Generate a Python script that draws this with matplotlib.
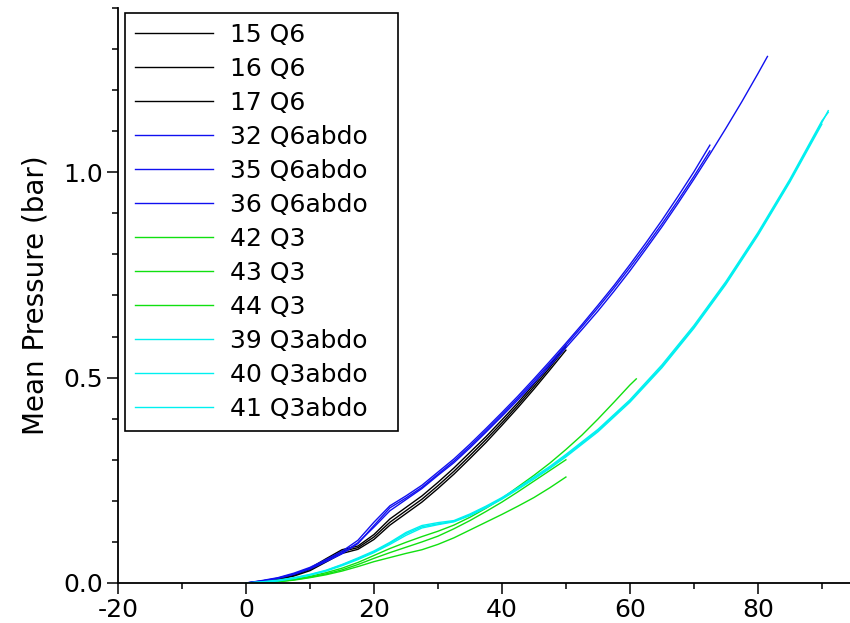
import matplotlib.pyplot as plt
from matplotlib.ticker import MultipleLocator

# sample positions (x) for each group
x_q6 = [0, 2.5, 5, 7.5, 10, 12.5, 15, 17.5, 20, 22.5, 25, 27.5, 30, 32.5, 35,
        37.5, 40, 42.5, 45, 47.5, 50]
x_q6abdo = [0, 2.5, 5, 7.5, 10, 12.5, 15, 17.5, 20, 22.5, 25, 27.5, 30, 32.5, 35,
            37.5, 40, 42.5, 45, 47.5, 50, 52.5, 55, 57.5, 60, 62.5, 65, 67.5,
            70, 72.5, 75, 77.5, 80, 81.5]
x_q3 = [0, 2.5, 5, 7.5, 10, 12.5, 15, 17.5, 20, 22.5, 25, 27.5, 30, 32.5, 35,
        37.5, 40, 42.5, 45, 47.5, 50, 52.5, 55, 57.5, 60, 61]
x_q3abdo = [0, 2.5, 5, 7.5, 10, 12.5, 15, 17.5, 20, 22.5, 25, 27.5, 30, 32.5, 35,
            37.5, 40, 42.5, 45, 47.5, 50, 55, 60, 65, 70, 75, 80, 85, 90, 91]

# mean pressure (bar)
y15 = [0, 0.003, 0.009, 0.019, 0.033, 0.055, 0.077, 0.086, 0.112, 0.148, 0.176,
       0.204, 0.237, 0.272, 0.310, 0.349, 0.390, 0.433, 0.478, 0.525, 0.574]
y16 = [0, 0.002, 0.008, 0.017, 0.030, 0.051, 0.072, 0.082, 0.106, 0.141, 0.169,
       0.197, 0.230, 0.265, 0.303, 0.342, 0.384, 0.427, 0.472, 0.519, 0.567]
y17 = [0, 0.004, 0.010, 0.021, 0.036, 0.059, 0.081, 0.090, 0.118, 0.156, 0.184,
       0.212, 0.245, 0.280, 0.318, 0.356, 0.397, 0.439, 0.484, 0.531, 0.579]

y32 = [0, 0.005, 0.012, 0.022, 0.036, 0.054, 0.073, 0.098, 0.136, 0.176, 0.203,
       0.230, 0.262, 0.293, 0.329, 0.367, 0.406, 0.446, 0.487, 0.529, 0.573,
       0.617, 0.662, 0.710, 0.760, 0.813, 0.867, 0.924, 0.983, 1.044, 1.107,
       1.172, 1.240, 1.282]
y35 = [0, 0.006, 0.013, 0.024, 0.038, 0.057, 0.077, 0.104, 0.148, 0.188, 0.212,
       0.238, 0.270, 0.302, 0.338, 0.376, 0.415, 0.455, 0.497, 0.540, 0.584,
       0.629, 0.676, 0.724, 0.775, 0.828, 0.883, 0.941, 1.001, 1.066]
y36 = [0, 0.005, 0.011, 0.021, 0.034, 0.052, 0.071, 0.096, 0.140, 0.183, 0.207,
       0.233, 0.265, 0.297, 0.333, 0.371, 0.410, 0.450, 0.492, 0.535, 0.579,
       0.624, 0.670, 0.718, 0.768, 0.820, 0.874, 0.931, 0.990, 1.052]

y42 = [0, 0.001, 0.004, 0.009, 0.016, 0.025, 0.036, 0.050, 0.067, 0.084, 0.099,
       0.113, 0.126, 0.141, 0.160, 0.182, 0.206, 0.234, 0.262, 0.292, 0.325,
       0.360, 0.399, 0.440, 0.482, 0.497]
y43 = [0, 0.001, 0.003, 0.008, 0.014, 0.022, 0.032, 0.045, 0.060, 0.074, 0.087,
       0.100, 0.114, 0.132, 0.152, 0.174, 0.197, 0.222, 0.248, 0.274, 0.300]
y44 = [0, 0.001, 0.003, 0.007, 0.013, 0.020, 0.029, 0.040, 0.052, 0.062, 0.072,
       0.081, 0.094, 0.110, 0.129, 0.148, 0.167, 0.187, 0.208, 0.232, 0.258]

y39 = [0, 0.002, 0.006, 0.012, 0.020, 0.030, 0.044, 0.059, 0.076, 0.097, 0.120,
       0.137, 0.144, 0.150, 0.166, 0.185, 0.206, 0.230, 0.255, 0.281, 0.310,
       0.371, 0.443, 0.527, 0.623, 0.730, 0.849, 0.979, 1.121, 1.150]
y40 = [0, 0.002, 0.005, 0.011, 0.019, 0.029, 0.042, 0.057, 0.074, 0.094, 0.116,
       0.134, 0.142, 0.149, 0.164, 0.183, 0.204, 0.228, 0.253, 0.279, 0.307,
       0.368, 0.440, 0.524, 0.620, 0.727, 0.846, 0.976, 1.117]
y41 = [0, 0.003, 0.007, 0.013, 0.021, 0.031, 0.045, 0.061, 0.078, 0.099, 0.123,
       0.140, 0.147, 0.152, 0.168, 0.187, 0.208, 0.232, 0.258, 0.284, 0.313,
       0.374, 0.446, 0.531, 0.627, 0.734, 0.853, 0.983, 1.125, 1.146]

labels = ['15 Q6', '16 Q6', '17 Q6', '32 Q6abdo', '35 Q6abdo', '36 Q6abdo',
          '42 Q3', '43 Q3', '44 Q3', '39 Q3abdo', '40 Q3abdo', '41 Q3abdo']

series = [(x_q6, y15), (x_q6, y16), (x_q6, y17),
          (x_q6abdo, y32), (x_q6abdo, y35), (x_q6abdo, y36),
          (x_q3, y42), (x_q3, y43), (x_q3, y44),
          (x_q3abdo, y39), (x_q3abdo, y40), (x_q3abdo, y41)]
colors = ['black'] * 3 + ['#1010f0'] * 3 + ['#10e010'] * 3 + ['#00f0f0'] * 3

plt.rcParams['font.family'] = ['DejaVu Sans']
plt.rcParams['axes.unicode_minus'] = False

fig = plt.figure(figsize=(8.5, 6.23), dpi=100)
ax = fig.add_axes([118 / 850, 40 / 623, 732 / 850, 575 / 623])

for (xs, ys), c, lab in zip(series, colors, labels):
    ax.plot(xs[:len(ys)], ys, color=c, lw=1.0, label=lab)

ax.set_xlim(-20, 94.4)
ax.set_ylim(0, 1.40)
ax.xaxis.set_major_locator(MultipleLocator(20))
ax.xaxis.set_minor_locator(MultipleLocator(10))
ax.yaxis.set_major_locator(MultipleLocator(0.5))
ax.yaxis.set_minor_locator(MultipleLocator(0.1))
ax.yaxis.set_major_formatter(plt.FuncFormatter(lambda v, p: f'{v:.1f}'))

for s in ['top', 'right']:
    ax.spines[s].set_visible(False)
for s in ['left', 'bottom']:
    ax.spines[s].set_linewidth(1.3)

ax.tick_params(which='major', length=8, width=1.1, labelsize=18, pad=3)
ax.tick_params(which='minor', length=4.5, width=1.1)
ax.set_ylabel('Mean Pressure (bar)', fontsize=20, labelpad=10)

top = 1 - 5 / 575
leg = ax.legend(loc='upper left', bbox_to_anchor=(7 / 732, 0.2, 273 / 732, top - 0.2),
                mode='expand', borderaxespad=0, fontsize=18, handlelength=3.1,
                handletextpad=0.7, labelspacing=0.4, borderpad=0.4,
                fancybox=False, framealpha=1, edgecolor='black')
leg.get_frame().set_linewidth(1.2)

fig.savefig('out.png', dpi=100)
